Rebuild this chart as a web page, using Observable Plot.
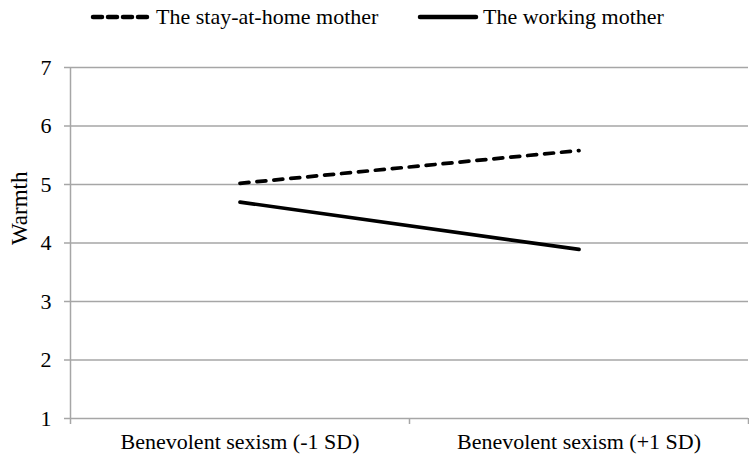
<!DOCTYPE html>
<html>
<head>
<meta charset="utf-8">
<script src="https://cdn.jsdelivr.net/npm/d3@7"></script>
<script src="https://cdn.jsdelivr.net/npm/@observablehq/plot@0.6"></script>
<style>
  html, body { margin: 0; padding: 0; background: #fff; }
  body { width: 749px; height: 460px; overflow: hidden; font-family: "Liberation Serif", "Times New Roman", serif; }
  #legend { height: 40px; position: relative; font-size: 22px; color: #000; }
  .item { position: absolute; top: 3px; display: flex; align-items: center; height: 28px; }
  .item svg { margin-right: 3px; }
</style>
</head>
<body>
<div id="legend"></div>
<div id="chart"></div>
<script>
const categories = ["Benevolent sexism (-1 SD)", "Benevolent sexism (+1 SD)"];
const seriesNames = ["The stay-at-home mother", "The working mother"];
const stayAtHome = [5.02, 5.58];
const working = [4.70, 3.89];
const yTicks = [1, 2, 3, 4, 5, 6, 7];

const data = [];
categories.forEach((c, i) => {
  data.push({series: seriesNames[0], cat: c, value: stayAtHome[i]});
  data.push({series: seriesNames[1], cat: c, value: working[i]});
});
const xi = d => categories.indexOf(d.cat);

// legend
const legend = document.getElementById("legend");
const legendPos = [89, 416];
seriesNames.forEach((name, i) => {
  const div = document.createElement("div");
  div.className = "item";
  div.style.left = legendPos[i] + "px";
  const dash = i === 0 ? 'stroke-dasharray="9,6" stroke-linecap="round"' : 'stroke-linecap="round"';
  div.innerHTML = `<svg width="64" height="10"><line x1="4" y1="5" x2="${i === 0 ? 61 : 60}" y2="5" stroke="#000" stroke-width="4.5" ${dash}/></svg><span>${name}</span>`;
  legend.appendChild(div);
});

const FF = "Liberation Serif, Times New Roman, serif";
const chart = Plot.plot({
  width: 749,
  height: 420,
  marginTop: 27,
  marginBottom: 42,
  marginLeft: 70,
  marginRight: 1,
  style: {fontFamily: FF, fontSize: "22px", color: "#000", background: "#fff"},
  x: {type: "linear", domain: [-0.5, 1.5], axis: null},
  y: {domain: [1, 7], axis: null},
  marks: [
    Plot.ruleY(yTicks, {stroke: "#a6a6a6", strokeWidth: 1.5}),
    Plot.ruleX([-0.5], {stroke: "#a6a6a6", strokeWidth: 1.5}),
    Plot.axisY({ticks: yTicks, tickFormat: "d", tickSize: 6, tickPadding: 13, stroke: "#a6a6a6", strokeWidth: 1.5, fill: "#000", fontSize: 22, fontFamily: FF, label: null}),
    Plot.axisX({ticks: [-0.5, 0.5, 1.5], tickSize: 6, tickFormat: () => "", stroke: "#a6a6a6", strokeWidth: 1.5, label: null}),
    Plot.axisX({ticks: [0, 1], tickSize: 0, tickPadding: 15, tickFormat: i => categories[i], fill: "#000", fontSize: 22, fontFamily: FF, label: null}),
    Plot.text(["Warmth"], {frameAnchor: "left", dx: -51, dy: 2, rotate: -90, fontSize: 23, fontFamily: FF, fill: "#000"}),
    Plot.line(data.filter(d => d.series === seriesNames[1]), {x: xi, y: "value", stroke: "#000", strokeWidth: 3.7, strokeLinecap: "round"}),
    Plot.line(data.filter(d => d.series === seriesNames[0]), {x: xi, y: "value", stroke: "#000", strokeWidth: 3.7, strokeLinecap: "round", strokeDasharray: "9,8"})
  ]
});
document.getElementById("chart").appendChild(chart);
</script>
</body>
</html>
